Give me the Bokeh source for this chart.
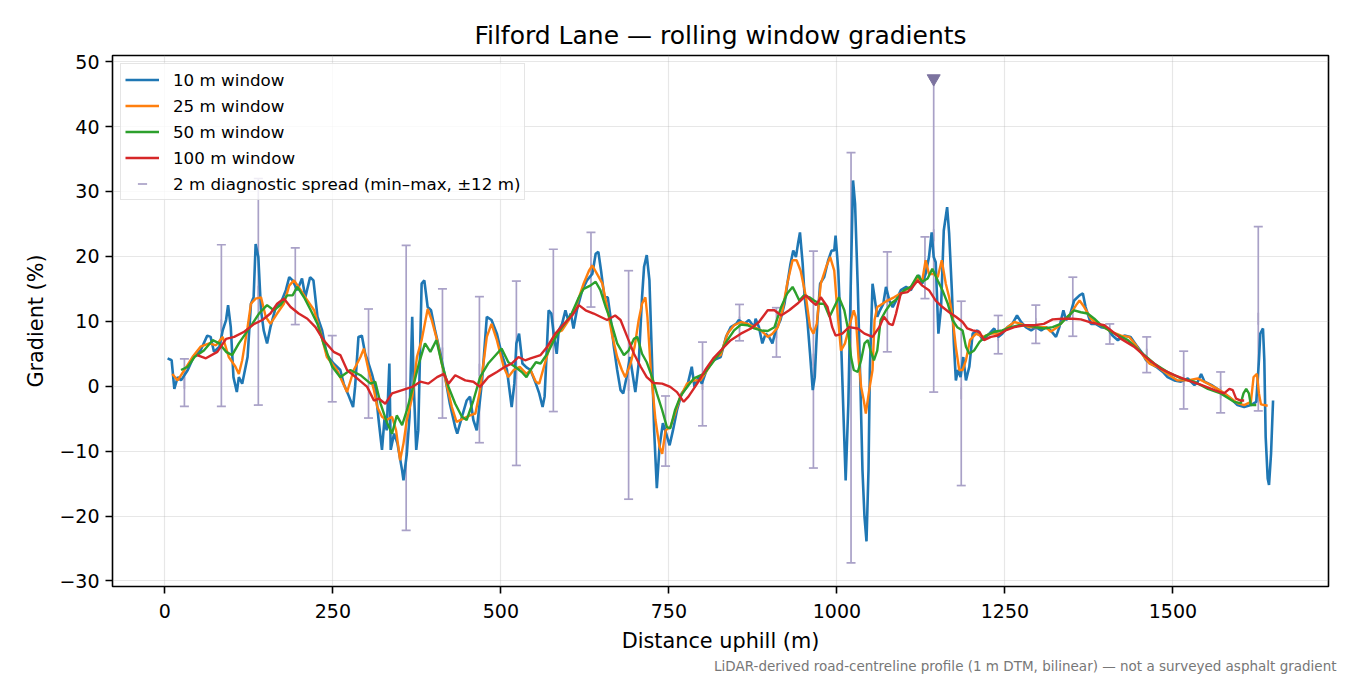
from bokeh.plotting import figure
from bokeh.models import (Range1d, FixedTicker, CustomJSTickFormatter, Legend, LegendItem,
                          Title, ColumnDataSource)
from bokeh.embed import file_html
from bokeh.resources import INLINE

# Données (distance en m, pente en %)
d10 = [4, 10, 14, 19, 24, 34, 44, 53, 63, 68, 73, 81, 86, 91, 94, 98, 102, 107, 110, 115, 123, 128, 132, 135, 139,
       143, 147, 152, 157, 165, 172, 180, 185, 190, 197, 204, 209, 216, 221, 227, 234, 241, 251,
       261, 266, 274, 280, 283, 288, 293, 298, 303, 308, 313, 318, 323, 327, 330, 334, 336, 341, 346, 353, 355, 360,
       364, 368, 370, 374, 377, 382, 386, 391, 396, 402, 410, 417, 424, 432, 435, 442, 449, 454, 459, 464, 472, 479,
       486, 494, 501, 509, 516, 520, 523, 527, 532, 538,
       544, 552, 557, 562, 565, 571, 575, 579, 583, 586, 591, 596, 600, 604, 608, 613, 621, 628, 636, 641, 645, 649,
       654, 659, 663, 668, 673, 678, 682, 687, 692, 695, 700, 705, 710, 713, 717, 721, 725, 728, 732, 736, 741, 746,
       751, 756, 762, 769, 777, 784, 788, 794, 799, 806, 816,
       827, 835, 842, 850, 854, 862, 869, 877, 879, 884, 889, 894, 899, 904, 909, 916, 922, 927, 931, 935, 939, 942,
       945, 949, 952, 956, 960, 964, 967, 971, 975, 981, 987, 992, 996, 998, 1002, 1006, 1010, 1013, 1017, 1021, 1024,
       1027, 1031, 1035, 1038, 1041, 1044, 1047, 1049, 1053, 1056, 1060, 1064, 1069, 1073, 1078, 1083, 1088, 1095,
       1103, 1110, 1117, 1122, 1127, 1132, 1137, 1141, 1144, 1147, 1151, 1155, 1159, 1164, 1167, 1171, 1174, 1177,
       1180, 1184, 1188, 1192, 1197, 1202, 1209, 1217, 1224, 1234, 1240, 1246, 1254, 1261, 1268, 1274, 1281, 1289,
       1296, 1304, 1311, 1318, 1326, 1331, 1337, 1341, 1346, 1353, 1361, 1366, 1370, 1378, 1385,
       1393, 1403, 1410, 1418, 1428, 1437, 1447, 1455, 1460, 1467, 1475, 1485, 1492, 1502, 1512, 1522, 1532, 1537,
       1542, 1547, 1557, 1566, 1576, 1586, 1596, 1606, 1616, 1624, 1628, 1630, 1634, 1636, 1638, 1641, 1643, 1646, 1649]
g10 = [4.3, 4.0, -0.4, 1.4, 0.9, 2.5, 4.8, 5.5, 7.8, 7.6, 5.3, 6.1, 8.6, 10.2, 12.5, 9.1, 1.4, -0.9, 1.4, 0.4, 4.5,
       12.7, 13.7, 21.9, 19.9, 11.7, 8.6, 6.6, 9.1, 12.2, 12.7, 14.8, 16.8, 16.3, 14.8, 16.6, 13.7, 16.8, 16.3, 10.7,
       8.6, 4.8, 3.5,
       2.5, 0.4, -1.6, -3.2, -0.1, 7.6, 7.8, 5.0, 3.5, 1.9, -0.1, -5.2, -9.8, -4.7, -6.8, 3.5, -9.8, -7.3, -8.8, -13.0,
       -14.5, -10.4, -4.7, 10.7, 0.9, -9.8, -6.8, 15.8, 16.3, 12.2, 11.7, 8.6, 5.0, 1.4, -2.7, -6.3, -7.3, -4.7, -2.2,
       -1.6, -5.2, -6.8, 0.9, 10.7, 10.2, 8.1, 5.0, 2.5, -3.2, 0.4, 6.6, 8.1, 3.5, 2.9,
       2.5, 0.4, -1.1, -3.2, -1.6, 11.7, 11.2, 7.6, 5.0, 8.6, 9.6, 11.7, 10.2, 11.2, 8.9, 11.7, 14.8, 16.3, 17.3, 20.4,
       20.7, 17.8, 13.7, 13.7, 10.7, 6.1, 2.5, -0.6, -1.1, 1.4, 4.5, 2.5, -0.9, 3.5, 13.7, 18.4, 20.2, 16.3, 3.5, -6.8,
       -15.7, -9.3, -5.7, -7.3, -9.1, -6.8, -3.7, -1.1, -0.1, 3.0, -0.1, 1.4, 0.4, 2.5, 4.0,
       4.5, 7.6, 9.1, 9.6, 10.2, 9.6, 10.2, 9.1, 10.4, 9.1, 6.6, 8.1, 7.6, 6.6, 8.6, 10.2, 12.7, 16.3, 18.9, 20.9, 19.9,
       21.9, 23.7, 18.9, 13.7, 10.2, 5.0, -0.6, 1.4, 10.2, 15.8, 16.8, 19.4, 20.9, 20.9, 23.2, 17.8, 7.6, -5.2, -14.5,
       -2.7, 17.8, 31.7, 28.1, 15.3, -0.1, -12.9, -20.1, -23.9, -12.9, 2.5, 15.8, 13.7, 10.7, 11.7, 12.7, 15.3, 13.2,
       12.2, 13.2, 14.8, 15.3, 14.8, 16.3, 17.1, 15.8, 17.3, 19.9, 23.7, 19.9, 19.1, 8.1, 12.2, 24.0, 27.6, 23.5, 14.8,
       6.6, 0.9, 2.5, 1.4, 4.5, 0.9, 3.0, 8.1, 8.6, 7.1, 7.8, 8.9, 7.6, 8.1, 9.1, 9.6, 10.9, 9.9, 9.1, 8.6, 9.1, 8.6,
       9.1, 8.6, 7.6, 9.1, 11.7, 10.2, 10.7, 13.2, 14.0, 14.3, 12.2, 9.6, 9.6,
       9.1, 8.9, 7.8, 7.1, 7.8, 7.6, 6.1, 5.0, 4.0, 3.5, 3.0, 2.2, 1.4, 0.9, 0.7, 1.2, 0.2, 0.7, 1.9, 0.7, 0.2, -0.4,
       -1.1, -1.9, -2.9, -3.2, -2.9, -2.4, 4.0, 8.1, 8.9, 4.0, -7.8, -14.2, -15.2, -10.4, -2.2]

d25 = [11, 19, 29, 41, 53, 66, 76, 86, 95, 105, 110, 115, 123, 128, 135, 143, 150, 157, 167, 177, 185, 192, 199, 209,
       222, 232, 241, 256, 271, 281, 291, 296, 303, 311, 316, 323, 330, 338, 344, 350, 355, 360, 368, 375, 382, 391,
       397, 405, 412, 420, 427, 434, 444, 454, 462, 469, 479, 486, 494, 504, 511, 519, 528, 538,
       544, 552, 557, 564, 574, 581, 591, 601, 613, 623, 631, 636, 643, 651, 658, 665, 673, 680, 685, 693, 699, 705,
       710, 715, 718, 723, 730, 736, 740, 745, 752, 759, 767, 777, 787, 797, 807, 819,
       827, 837, 847, 857, 867, 877, 887, 897, 904, 912, 919, 926, 934, 940, 946, 954, 960, 965, 970, 976, 984, 990,
       996, 1001, 1006, 1012, 1018, 1025, 1028, 1032, 1036, 1040, 1043, 1048, 1053, 1056, 1060, 1065, 1075, 1085,
       1095, 1105, 1110, 1120, 1127, 1132, 1137, 1144, 1150, 1156, 1162, 1167, 1172, 1177, 1182, 1187, 1192, 1198,
       1207, 1217, 1229, 1242, 1254, 1264, 1274, 1286, 1299, 1311, 1318, 1328, 1338, 1348, 1356, 1361, 1368, 1378,
       1388, 1393, 1408, 1423, 1435, 1445, 1455, 1465, 1477, 1492, 1507, 1522, 1537, 1552, 1566, 1581, 1596, 1606,
       1616, 1620, 1625, 1628, 1631, 1641]
g25 = [1.9, 0.9, 2.5, 4.5, 6.1, 6.6, 6.3, 7.6, 4.5, 3.0, 1.9, 4.0, 9.1, 12.7, 13.5, 13.7, 10.7, 9.6, 11.2, 12.7, 15.5,
       16.3, 15.3, 13.7, 11.7, 8.1, 4.5, 2.5, -0.9, 2.5, 4.5, 5.8, 2.5, -0.6, -3.2, -4.7, -5.2, -4.7, -6.8, -11.4,
       -8.8, -5.2, -1.7, 4.5, 7.1, 11.9, 10.2, 7.1, 3.5, -0.1, -3.2, -5.5, -5.0, -4.5, -4.2, -0.6, 7.6, 9.6, 7.1, 3.0,
       1.4, 2.5, 3.0, 1.9,
       2.5, 0.7, 0.4, 3.0, 6.6, 8.1, 8.6, 10.2, 12.7, 15.8, 17.8, 18.6, 17.3, 15.8, 12.2, 8.1, 4.5, 2.5, 1.4, 3.5, 6.1,
       10.2, 12.7, 13.7, 10.7, 2.5, -5.2, -9.3, -10.4, -6.8, -6.3, -4.2, -1.6, 0.4, 0.9, 0.9, 2.5, 4.5,
       4.8, 8.1, 9.4, 9.9, 9.6, 9.1, 8.6, 7.6, 8.1, 9.1, 11.7, 15.8, 19.4, 19.4, 17.8, 13.7, 9.1, 8.1, 9.6, 15.8, 18.4,
       19.9, 17.8, 11.2, 5.5, 6.6, 9.1, 11.7, 10.7, 4.5, -0.1, -2.2, -4.2, -0.6, 2.5, 10.2, 12.2, 12.5, 13.2, 13.7,
       14.3, 15.0, 15.3, 16.6, 16.3, 19.4, 17.3, 17.3, 16.8, 19.4, 15.8, 13.7, 10.7, 6.0, 2.5, 2.5, 4.0, 7.1, 8.1,
       7.6, 8.1, 8.1, 9.1, 9.9, 9.6, 9.1, 9.1, 9.1, 8.4, 9.1, 10.2, 11.2, 12.5, 13.2, 12.2, 10.4, 9.6, 9.4, 8.4, 7.8,
       7.6, 6.3, 4.8, 3.5, 3.0, 1.9, 0.9, 0.9, 1.2, 0.4, -0.4, -1.4, -2.6, -2.9, -2.4, 1.4, 1.9, -1.1, -2.8, -3.0]

d50 = [24, 34, 44, 58, 71, 81, 91, 100, 110, 120, 130, 140, 152, 162, 172, 182, 190, 197, 207, 217, 227, 236, 249,
       261, 276, 291, 306, 313, 321, 330, 338, 345, 353, 360, 368, 378, 387, 395, 404, 412, 422, 432, 442, 449, 459,
       469, 481, 494, 501, 511, 521, 531, 538,
       544, 552, 559, 569, 579, 591, 604, 616, 623, 633, 641, 648, 656, 663, 673, 683, 690, 698, 703, 710, 717, 725,
       732, 740, 747, 752, 759, 767, 777, 787, 802, 814,
       827, 837, 847, 857, 867, 877, 887, 897, 907, 917, 926, 934, 939, 944, 951, 959, 966, 974, 981, 989, 996, 1003,
       1011, 1016, 1021, 1025, 1031, 1036, 1041, 1046, 1050, 1055, 1060, 1065, 1073, 1080, 1090, 1100, 1110, 1120,
       1127, 1135, 1142, 1150, 1157, 1165, 1172, 1179, 1187, 1192, 1197, 1204, 1212, 1222, 1234, 1246, 1259, 1271,
       1284, 1296, 1308, 1321, 1333, 1343, 1353, 1363, 1373, 1383, 1393, 1413, 1433, 1452, 1472, 1492, 1512, 1532,
       1552, 1571, 1591, 1601, 1605, 1609, 1613, 1616, 1624]
g50 = [2.5, 3.0, 4.5, 5.5, 7.1, 6.6, 5.3, 4.8, 6.6, 8.1, 9.6, 11.2, 12.5, 11.7, 12.5, 14.0, 14.0, 15.3, 13.7, 11.7,
       9.6, 6.6, 3.0,
       1.4, 2.5, 1.7, 0.4, 0.7, -2.7, -5.5, -7.3, -4.5, -6.0, -3.7, -0.6, 3.5, 6.6, 5.3, 7.1, 3.5, -0.1, -2.7, -4.7,
       -5.2, -2.2, 1.4, 3.5, 5.0, 5.8, 3.7, 3.0, 2.2, 1.4,
       2.5, 3.7, 3.5, 5.0, 7.1, 9.1, 10.9, 13.7, 15.0, 15.5, 16.1, 14.8, 12.2, 10.2, 6.6, 4.8, 5.5, 7.3, 7.6, 5.0, 3.7,
       1.4, -1.1, -3.7, -6.3, -6.5, -3.7, -1.6, -0.1, 1.2, 1.9, 3.5,
       5.3, 7.1, 8.6, 9.5, 9.4, 8.9, 8.6, 8.5, 9.1, 12.2, 14.3, 15.3, 14.3, 13.2, 14.0, 13.7, 13.2, 12.7, 12.7, 10.7,
       12.2, 13.7, 11.7, 9.1, 4.5, 2.5, 2.2, 4.0, 6.6, 7.1, 5.5, 4.0, 5.5, 10.2, 11.7, 12.7, 13.5, 14.8, 15.3, 17.1,
       16.1, 16.6, 18.1, 16.3, 14.8, 12.7, 10.2, 9.1, 8.6, 6.1, 5.0, 5.5, 6.8, 7.8, 8.4, 8.6, 9.1, 9.4, 9.4, 9.1, 8.9,
       9.1, 9.6, 10.7, 11.7, 11.4, 11.2, 10.4, 9.4, 8.1, 7.1, 5.3, 3.5, 2.2, 1.2, 0.7, -0.4, -1.1, -2.4, -2.6, -1.1,
       -0.4, -1.1, -2.9, -2.9]

d100 = [48, 61, 78, 91, 103, 118, 133, 145, 157, 167, 177, 187, 199, 212, 224, 236, 251, 261, 271, 286, 301, 311, 318,
        328, 338, 353, 368, 380, 392, 405, 415, 422, 432, 447, 459, 469, 481, 494, 506, 516, 526, 536,
        544, 559, 569, 581, 594, 606, 616, 626, 638, 648, 658, 670, 678, 688, 698, 708, 717, 727, 740, 752, 762, 772,
        779, 792, 804, 816,
        827, 842, 857, 872, 884, 897, 907, 917, 929, 941, 954, 961, 969, 976, 986, 993, 998, 1008, 1018, 1031, 1041,
        1053, 1063, 1070, 1078, 1083, 1088, 1095, 1105, 1112, 1120, 1127, 1137, 1147, 1157, 1167, 1177, 1187, 1194,
        1202, 1212, 1219, 1229, 1239, 1251, 1264, 1279, 1294, 1308, 1321, 1336, 1351, 1363, 1375, 1388, 1398, 1408,
        1423, 1442, 1462, 1482, 1502, 1522, 1542, 1562, 1576, 1584, 1589, 1594, 1601, 1606]
g100 = [4.8, 4.3, 5.3, 7.3, 7.6, 8.4, 9.6, 10.2, 11.2, 12.7, 13.5, 12.2, 11.2, 10.4, 9.1, 7.1, 5.3, 4.8, 2.5, 1.2,
        -0.1, -2.2, -1.9, -2.7, -1.1, -0.6, -0.1, 0.7, 0.4, 1.4, 1.9, 0.4, 1.7, 0.9, 0.7, -0.1, 1.4, 2.2, 3.0, 3.5,
        4.5, 4.0,
        4.3, 4.8, 6.1, 8.1, 9.6, 10.9, 12.5, 11.7, 11.2, 10.7, 10.2, 10.9, 10.2, 7.6, 5.0, 3.0, 1.4, 0.5, 0.4, -0.1,
        -0.9, -2.4, -1.6, 0.4, 2.5, 4.3,
        5.5, 7.1, 8.1, 8.9, 9.9, 11.7, 11.7, 10.9, 11.7, 12.7, 14.0, 13.2, 12.5, 13.7, 12.2, 9.1, 7.8, 8.1, 9.1, 8.9,
        8.1, 7.6, 9.1, 10.7, 9.6, 9.4, 11.2, 14.3, 14.5, 15.2, 16.3, 15.5, 14.8, 13.2, 12.2, 11.4, 10.7, 9.9, 8.9,
        8.6, 8.4, 7.1, 7.6, 7.8, 8.6, 9.1, 9.4, 9.4, 9.6, 10.3, 10.4, 10.4, 10.3, 9.9, 9.6, 9.4, 8.6, 7.3, 6.1, 4.3,
        2.7, 1.7, 0.9, 0.2, -0.6, -1.1, -0.4, -0.6, -1.9, -2.2, -2.2]

# Dispersion diagnostique 2 m (min–max)
spread_d = [29, 84, 139, 194, 249, 303, 359, 413, 468, 523, 578, 634, 690, 745, 800, 855, 910, 965, 1021, 1075,
            1131, 1144, 1185, 1240, 1296, 1351, 1406, 1461, 1516, 1571, 1627]
spread_lo = [-3.1, -3.1, -2.9, 9.5, -2.4, -4.9, -22.2, -4.9, -8.7, -12.2, -3.9, 12.2, -17.4, -12.3, -6.1, 7.0, 4.5,
             -12.6, -27.2, 5.3, 13.5, -0.9, -15.3, 5.0, 6.6, 7.7, 6.5, 2.1, -3.5, -4.1, -3.8]
spread_hi = [4.2, 21.8, 32.0, 21.3, 7.8, 11.9, 21.7, 15.0, 13.8, 16.2, 21.1, 23.7, 17.8, -1.5, 6.8, 12.6, 12.1, 20.8,
             36.0, 20.7, 23.0, 47.4, 13.1, 10.9, 12.5, 16.8, 9.6, 7.6, 5.4, 2.2, 24.6]
clip_d = [1144]
clip_g = [47.4]

x_ticks = [0, 250, 500, 750, 1000, 1250, 1500]
y_ticks = [-30, -20, -10, 0, 10, 20, 30, 40, 50]

FONT = "DejaVu Sans"
SPREAD = "#a9a1c7"

p = figure(width=1350, height=675, x_range=Range1d(-78, 1731.5), y_range=Range1d(-30.85, 50.95),
           output_backend="svg", toolbar_location=None,
           min_border_left=112, min_border_right=22, min_border_top=55, min_border_bottom=89)
p.title.text = "Filford Lane \u2014 rolling window gradients"
p.title.align = "center"
p.title.text_font = FONT
p.title.text_font_size = "25px"
p.title.text_font_style = "normal"
p.title.text_color = "black"
p.title.standoff = 12

# barres d'erreur
mid = [(a + b) / 2 for a, b in zip(spread_lo, spread_hi)]
src = ColumnDataSource(dict(d=spread_d, lo=spread_lo, hi=spread_hi, mid=mid))
p.segment("d", "lo", "d", "hi", source=src, line_color=SPREAD, line_width=1.7)
p.scatter("d", "lo", source=src, marker="dash", size=9, line_color=SPREAD, line_width=1.7)
p.scatter("d", "hi", source=src, marker="dash", size=9, line_color=SPREAD, line_width=1.7)
r_spread = p.scatter("d", "mid", source=src, marker="dash", angle=1.5708, size=12,
                     line_color=SPREAD, line_width=1.7)
p.scatter(clip_d, clip_g, marker="inverted_triangle", size=13, fill_color="#7c739f",
          line_color="#7c739f")

r10 = p.line(d10, g10, line_color="#1f77b4", line_width=2.6)
r25 = p.line(d25, g25, line_color="#ff7f0e", line_width=2.4)
r50 = p.line(d50, g50, line_color="#2ca02c", line_width=2.4)
r100 = p.line(d100, g100, line_color="#d62728", line_width=2.4)

legend = Legend(items=[LegendItem(label="10 m window", renderers=[r10]),
                       LegendItem(label="25 m window", renderers=[r25]),
                       LegendItem(label="50 m window", renderers=[r50]),
                       LegendItem(label="100 m window", renderers=[r100]),
                       LegendItem(label="2 m diagnostic spread (min\u2013max, \u00b112 m)",
                                  renderers=[r_spread])],
                location="top_left")
legend.label_text_font = FONT
legend.label_text_font_size = "16.7px"
legend.label_text_color = "black"
legend.label_height = 23
legend.glyph_height = 23
legend.glyph_width = 34
legend.spacing = 3
legend.padding = 4
legend.margin = 8
legend.label_standoff = 14
legend.border_line_color = "#cccccc"
legend.background_fill_alpha = 0.8
p.add_layout(legend)

for ax in (p.xaxis[0], p.yaxis[0]):
    ax.axis_line_color = None
    ax.major_tick_out = 7
    ax.major_tick_in = 0
    ax.major_tick_line_width = 1.6
    ax.major_tick_line_color = "black"
    ax.minor_tick_line_color = None
    ax.major_label_text_font = FONT
    ax.major_label_text_font_size = "19px"
    ax.major_label_text_color = "black"
    ax.major_label_standoff = 6
    ax.axis_label_text_font = FONT
    ax.axis_label_text_font_size = "20.8px"
    ax.axis_label_text_font_style = "normal"
    ax.axis_label_text_color = "black"
    ax.axis_label_standoff = 8
p.xaxis.major_label_standoff = 10

p.xaxis.ticker = FixedTicker(ticks=x_ticks)
p.yaxis.ticker = FixedTicker(ticks=y_ticks)
p.yaxis.formatter = CustomJSTickFormatter(code="return tick < 0 ? '\\u2212' + (-tick) : '' + tick;")
p.xaxis.axis_label = "Distance uphill (m)"
p.yaxis.axis_label = "Gradient (%)"

p.grid.grid_line_color = "#b0b0b0"
p.grid.grid_line_alpha = 0.3
p.grid.grid_line_width = 1.2
p.outline_line_color = "black"
p.outline_line_width = 1.6
p.outline_line_alpha = 1

note = Title(text="LiDAR-derived road-centreline profile (1 m DTM, bilinear) \u2014 not a surveyed asphalt gradient",
             align="right", text_font=FONT, text_font_size="13.5px", text_color="#777777",
             text_font_style="normal", standoff=0, offset=-8)
p.add_layout(note, "below")

open("out.html", "w").write(file_html(p, INLINE))
